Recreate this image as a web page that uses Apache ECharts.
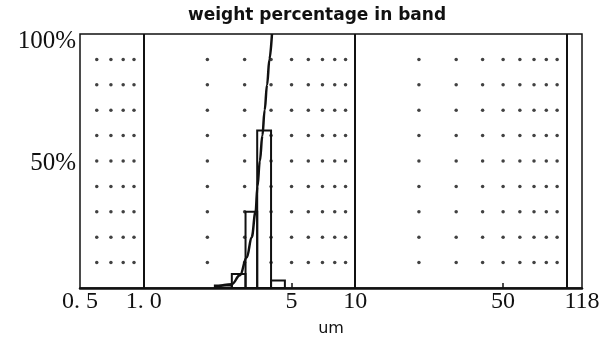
<!DOCTYPE html>
<html>
<head>
<meta charset="utf-8">
<script src="https://cdn.jsdelivr.net/npm/echarts@6/dist/echarts.min.js"></script>
<style>
  html, body { margin: 0; padding: 0; background: #fff; }
  #chart { width: 608px; height: 342px; }
</style>
</head>
<body>
<div id="chart"></div>
<script>
// size bands (um) and weight % in each band
var binLo = [2.17, 2.61, 3.03, 3.44, 4.0];
var binHi = [2.61, 3.03, 3.44, 4.0, 4.65];
var binPct = [1, 5.5, 30, 62, 3];

// cumulative curve
var cumX = [2.17, 2.61, 2.85, 3.07, 3.24, 3.38, 3.45, 3.54, 3.64, 3.73, 3.83, 3.93, 4.04];
var cumY = [0.3, 1.5, 5, 12, 20, 30, 40, 50, 60, 70, 80, 90, 100];

// axis labels
var xLabelVals = [0.5, 1, 5, 10, 50, 118];
var xLabelText = ['0. 5', '1. 0', '5', '10', '50', '118'];
var xMinorTicks = [5, 50];
var decadeLines = [1, 10, 100];

// dotted grid
var dotX = [0.6, 0.7, 0.8, 0.9, 2, 3, 4, 5, 6, 7, 8, 9, 20, 30, 40, 50, 60, 70, 80, 90];
var dotY = [10, 20, 30, 40, 50, 60, 70, 80, 90];

var lg = Math.log10;

var dots = [];
dotX.forEach(function (x) {
    dotY.forEach(function (y) {
        dots.push([lg(x), y]);
    });
});

var bars = binLo.map(function (lo, i) {
    return [lg(lo), lg(binHi[i]), binPct[i]];
});

var curve = cumX.map(function (x, i) {
    return [lg(x), cumY[i]];
});

var myChart = echarts.init(document.getElementById('chart'));

var option = {
    animation: false,
    backgroundColor: '#fff',
    title: {
        text: 'weight percentage in band',
        left: 312,
        top: 2,
        textAlign: 'center',
        textStyle: {
            fontFamily: 'DejaVu Sans',
            fontSize: 17,
            fontWeight: 'bold',
            color: '#111'
        }
    },
    grid: {
        left: 80,
        right: 26,
        top: 34,
        bottom: 53,
        show: true,
        borderColor: '#111',
        borderWidth: 1.5
    },
    xAxis: {
        type: 'value',
        min: lg(0.5),
        max: lg(118),
        name: 'um',
        nameLocation: 'middle',
        nameGap: 33,
        nameTextStyle: {fontFamily: 'DejaVu Sans', fontSize: 16, color: '#111'},
        axisLine: {lineStyle: {color: '#111', width: 2.5}},
        axisTick: {
            customValues: xMinorTicks.map(lg),
            inside: true,
            length: 5,
            lineStyle: {color: '#111', width: 1.5}
        },
        axisLabel: {
            customValues: xLabelVals.map(lg),
            margin: 2,
            fontFamily: 'Liberation Serif',
            fontSize: 24,
            color: '#111',
            formatter: function (v) {
                for (var i = 0; i < xLabelVals.length; i++) {
                    if (Math.abs(lg(xLabelVals[i]) - v) < 1e-6) return xLabelText[i];
                }
                return '';
            }
        },
        splitLine: {show: false}
    },
    yAxis: {
        type: 'value',
        min: 0,
        max: 100,
        axisLine: {show: false},
        axisTick: {show: false},
        splitLine: {show: false},
        axisLabel: {
            customValues: [50, 100],
            margin: 4,
            formatter: function (v) {
                return v === 100 ? '{a|100%}' : '{b|50%}';
            },
            rich: {
                a: {fontFamily: 'Liberation Serif', fontSize: 25, color: '#111', padding: [14, 0, 0, 0]},
                b: {fontFamily: 'Liberation Serif', fontSize: 25, color: '#111', padding: [4, 0, 0, 0]}
            }
        }
    },
    series: [
        {
            type: 'scatter',
            data: dots,
            symbolSize: 3.5,
            itemStyle: {color: '#111'},
            silent: true,
            markLine: {
                silent: true,
                symbol: 'none',
                label: {show: false},
                lineStyle: {color: '#111', width: 2, type: 'solid'},
                data: decadeLines.map(function (d) {
                    return {xAxis: lg(d)};
                })
            }
        },
        {
            type: 'custom',
            data: bars,
            encode: {x: [0, 1], y: 2},
            renderItem: function (params, api) {
                var p1 = api.coord([api.value(0), api.value(2)]);
                var p2 = api.coord([api.value(1), 0]);
                return {
                    type: 'rect',
                    shape: {x: p1[0], y: p1[1], width: p2[0] - p1[0], height: p2[1] - p1[1]},
                    style: {fill: 'none', stroke: '#111', lineWidth: 2}
                };
            }
        },
        {
            type: 'line',
            data: curve,
            smooth: 0.4,
            smoothMonotone: 'x',
            symbol: 'none',
            lineStyle: {color: '#111', width: 2.5}
        }
    ]
};

myChart.setOption(option);
</script>
</body>
</html>
